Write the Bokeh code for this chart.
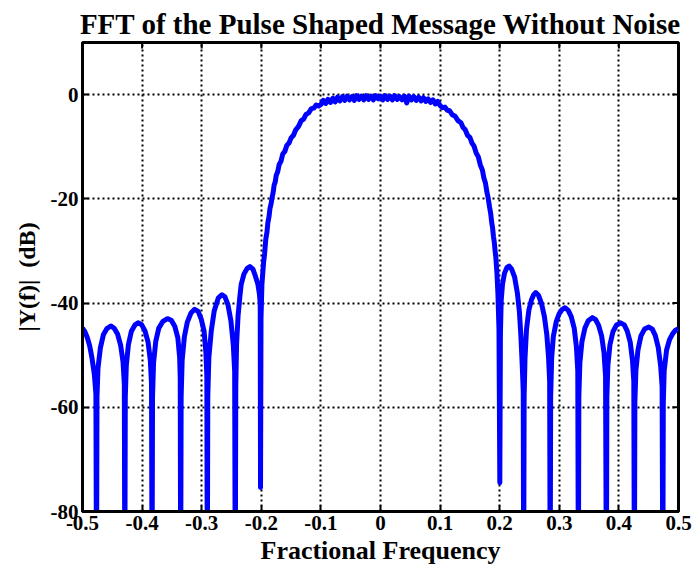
import math

from bokeh.plotting import figure
from bokeh.models import FixedTicker, Range1d
from bokeh.embed import file_html
from bokeh.resources import INLINE

# Magnitude spectrum |Y(f)| in dB, read as three pieces: the left sidebands,
# the main lobe and the right sidebands. Null samples sit below the plot floor.
left_freq = [
    -0.5000, -0.4960, -0.4920, -0.4880, -0.4840, -0.4800, -0.4775, -0.4765,
    -0.4757, -0.4740, -0.4700, -0.4650, -0.4590, -0.4526, -0.4470, -0.4410, -0.4360, -0.4320, -0.4298, -0.4290,
    -0.4282, -0.4265, -0.4230, -0.4180, -0.4120, -0.4067, -0.4010, -0.3950, -0.3900, -0.3862, -0.3842, -0.3833,
    -0.3825, -0.3808, -0.3770, -0.3720, -0.3650, -0.3576, -0.3510, -0.3450, -0.3400, -0.3370, -0.3360, -0.3353,
    -0.3345, -0.3328, -0.3290, -0.3240, -0.3180, -0.3119, -0.3060, -0.3010, -0.2960, -0.2930, -0.2914, -0.2906,
    -0.2898, -0.2880, -0.2840, -0.2790, -0.2720, -0.2660, -0.2610, -0.2560, -0.2510, -0.2470, -0.2447, -0.2437,
    -0.2428, -0.2415, -0.2390, -0.2360, -0.2337, -0.2290, -0.2240, -0.2190, -0.2140, -0.2100, -0.2057, -0.2030,
    -0.2018, -0.2013,
]
left_db = [
    -44.8, -45.5, -46.6, -48.2, -50.6, -53.8, -57.5, -95.0,
    -58.0, -52.5, -48.6, -46.1, -44.9, -44.4, -44.8, -46.0, -48.1, -51.3, -55.5, -95.0,
    -58.0, -52.0, -48.0, -45.4, -44.2, -43.8, -44.1, -45.4, -47.5, -51.0, -55.5, -95.0,
    -58.0, -51.5, -47.3, -44.8, -43.5, -43.0, -43.3, -44.5, -46.7, -50.4, -54.5, -95.0,
    -58.0, -51.0, -46.4, -43.6, -41.9, -41.2, -41.6, -43.0, -45.4, -49.4, -54.0, -95.0,
    -58.0, -50.5, -45.4, -41.5, -39.0, -38.4, -38.8, -40.3, -43.4, -48.0, -53.0, -95.0,
    -56.0, -48.0, -42.5, -38.8, -36.4, -34.4, -33.4, -33.0, -33.5, -34.8, -36.4, -38.4,
    -40.2, -75.4,
]

main_freq = [
    -0.2005, -0.1990, -0.1975, -0.1960, -0.1945, -0.1925, -0.1905, -0.1890, -0.1870, -0.1855,
    -0.1835, -0.1820, -0.1800, -0.1785, -0.1765, -0.1750, -0.1725, -0.1700, -0.1670, -0.1640,
    -0.1605, -0.1570, -0.1535, -0.1500, -0.1460, -0.1420, -0.1375, -0.1330, -0.1290, -0.1250,
    -0.1205, -0.1160, -0.1120, -0.1080, -0.1040,
    -0.100, -0.096, -0.092, -0.088, -0.084, -0.080, -0.076, -0.072, -0.068, -0.064,
    -0.060, -0.056, -0.052, -0.048, -0.044, -0.040, -0.036, -0.032, -0.028, -0.024,
    -0.020, -0.016, -0.012, -0.008, -0.004, 0.000, 0.004, 0.008, 0.012, 0.016,
    0.020, 0.024, 0.028, 0.032, 0.036, 0.040, 0.044, 0.048, 0.052, 0.056,
    0.060, 0.064, 0.068, 0.072, 0.076, 0.080, 0.084, 0.088, 0.092, 0.096, 0.100,
    0.1040, 0.1080, 0.1120, 0.1160, 0.1205, 0.1250, 0.1300, 0.1350, 0.1385, 0.1420,
    0.1460, 0.1500, 0.1535, 0.1570, 0.1605, 0.1640, 0.1675, 0.1710, 0.1735, 0.1760,
    0.1785, 0.1806, 0.1830, 0.1850, 0.1865, 0.1880, 0.1895, 0.1910, 0.1923, 0.1935,
    0.1955, 0.1970, 0.1988,
]
main_db = [
    -43.0, -36.5, -34.2, -32.0, -30.6, -27.8, -26.4, -24.6, -23.4, -21.9,
    -20.9, -19.8, -18.7, -17.4, -16.7, -15.5, -14.8, -13.4, -12.8, -11.4,
    -10.9, -9.7, -9.3, -8.3, -7.8, -6.7, -6.1, -5.0, -4.7, -3.8,
    -3.5, -2.7, -2.6, -2.0, -2.2,
    -1.9, -1.1, -1.7, -0.9, -1.5, -0.7, -1.4, -0.5, -1.2, -0.4,
    -1.1, -0.3, -1.0, -0.4, -1.1, -0.2, -0.9, -0.3, -1.0, -0.2,
    -0.9, -0.3, -1.0, -0.2, -0.8, -0.3, -1.0, -0.2, -0.9, -0.3,
    -1.0, -0.2, -0.9, -0.4, -1.0, -0.3, -1.6, -0.3, -1.0, -0.4,
    -1.1, -0.5, -1.2, -0.6, -1.3, -0.8, -1.5, -1.0, -1.8, -1.3, -2.1,
    -2.5, -2.4, -3.0, -3.1, -3.9, -4.1, -5.0, -5.4, -6.3, -6.7,
    -7.8, -8.2, -9.3, -9.9, -11.2, -11.9, -13.5, -14.5, -16.0, -16.9,
    -18.7, -19.8, -21.6, -22.9, -24.5, -25.5, -27.2, -28.4, -30.0, -31.2,
    -34.5, -38.2, -45.0,
]

right_freq = [
    0.2002,
    0.2012, 0.2025, 0.2047, 0.2080, 0.2120, 0.2158, 0.2200, 0.2250, 0.2298, 0.2330, 0.2355, 0.2380, 0.2395, 0.2402,
    0.2410, 0.2425, 0.2450, 0.2490, 0.2535, 0.2570, 0.2605, 0.2650, 0.2700, 0.2750, 0.2790, 0.2820, 0.2838, 0.2847,
    0.2855, 0.2872, 0.2900, 0.2950, 0.3000, 0.3050, 0.3096, 0.3150, 0.3200, 0.3250, 0.3288, 0.3310, 0.3320,
    0.3328, 0.3345, 0.3380, 0.3430, 0.3485, 0.3554, 0.3610, 0.3660, 0.3710, 0.3750, 0.3776, 0.3790,
    0.3798, 0.3815, 0.3850, 0.3900, 0.3960, 0.4028, 0.4090, 0.4140, 0.4190, 0.4228, 0.4250, 0.4260,
    0.4268, 0.4285, 0.4320, 0.4370, 0.4430, 0.4503, 0.4560, 0.4610, 0.4660, 0.4700, 0.4725, 0.4737,
    0.4745, 0.4760, 0.4800, 0.4850, 0.4900, 0.4950, 0.5000,
]
right_db = [
    -74.5,
    -46.0, -39.5, -36.4, -34.3, -33.2, -32.9, -33.5, -35.0, -38.2, -41.6, -46.2, -52.4, -57.0, -95.0,
    -58.0, -50.5, -45.0, -41.3, -39.3, -38.4, -38.0, -38.5, -40.0, -42.6, -46.0, -50.5, -55.0, -95.0,
    -58.0, -50.5, -46.4, -43.5, -42.0, -41.2, -40.9, -41.4, -42.6, -44.8, -48.5, -53.0, -95.0,
    -58.0, -51.5, -47.4, -44.8, -43.4, -42.8, -43.2, -44.3, -46.3, -49.5, -54.0, -95.0,
    -58.0, -52.0, -48.0, -45.5, -44.2, -43.8, -44.2, -45.4, -47.5, -51.0, -55.0, -95.0,
    -59.0, -53.0, -49.0, -46.3, -45.0, -44.6, -45.0, -46.2, -48.5, -52.0, -56.0, -95.0,
    -59.0, -53.0, -49.0, -47.0, -45.9, -45.2, -44.9,
]

x_ticks = [-0.5, -0.4, -0.3, -0.2, -0.1, 0.0, 0.1, 0.2, 0.3, 0.4, 0.5]
x_tick_labels = ["-0.5", "-0.4", "-0.3", "-0.2", "-0.1", "0", "0.1", "0.2", "0.3", "0.4", "0.5"]
y_ticks = [-80, -60, -40, -20, 0]
y_tick_labels = ["-80", "-60", "-40", "-20", "0"]
x_lim = (-0.5, 0.5)
y_lim = (-80, 10)

freq = left_freq + main_freq + right_freq
mag_db = left_db + main_db + right_db

FONT = "Liberation Serif"

p = figure(
    width=694, height=573,
    x_range=Range1d(*x_lim), y_range=Range1d(*y_lim),
    output_backend="svg", toolbar_location=None,
    min_border_left=82, min_border_right=16,
    min_border_top=42, min_border_bottom=62,
    background_fill_color="white", border_fill_color="white",
)

# dotted grid
for g, t in ((p.xgrid, x_ticks), (p.ygrid, y_ticks)):
    g.ticker = FixedTicker(ticks=t)
    g.grid_line_color = "black"
    g.grid_line_dash = "2 3"
    g.grid_line_width = 2

p.line(freq, mag_db, line_color="#0000FF", line_width=5, line_join="round")

# inward tick marks on the top and right edges (outer half is clipped by the frame)
p.scatter(x_ticks, [y_lim[1]] * len(x_ticks), marker="dash", angle=math.pi / 2,
          size=12, line_color="black", line_width=2)
p.scatter([x_lim[1]] * len(y_ticks), y_ticks, marker="dash",
          size=12, line_color="black", line_width=2)

# title
p.title.text = "FFT of the Pulse Shaped Message Without Noise"
p.title.text_font = FONT
p.title.text_font_style = "bold"
p.title.text_font_size = "29px"
p.title.text_color = "black"
p.title.align = "center"
p.title.standoff = 5

p.outline_line_color = "black"
p.outline_line_width = 3


def style_axis(ax, ticks, labels):
    ax.ticker = FixedTicker(ticks=ticks)
    ax.axis_line_width = 3
    ax.axis_line_color = "black"
    ax.major_tick_in = 6
    ax.major_tick_out = 0
    ax.major_tick_line_width = 2
    ax.minor_tick_line_color = None
    ax.major_label_overrides = {t: s for t, s in zip(ticks, labels)}
    ax.major_label_text_font = FONT
    ax.major_label_text_font_style = "bold"
    ax.major_label_text_font_size = "21px"
    ax.major_label_text_color = "black"
    ax.axis_label_text_font = FONT
    ax.axis_label_text_font_style = "bold"
    ax.axis_label_text_font_size = "26px"
    ax.axis_label_text_color = "black"


style_axis(p.xaxis[0], x_ticks, x_tick_labels)
style_axis(p.yaxis[0], y_ticks, y_tick_labels)
p.xaxis[0].axis_label = "Fractional Frequency"
p.xaxis[0].axis_label_standoff = 3
p.xaxis[0].major_label_standoff = 4
p.yaxis[0].axis_label = "|Y(f)|\u00a0\u00a0(dB)"
p.yaxis[0].axis_label_text_font_size = "24px"
p.yaxis[0].axis_label_standoff = 8
p.yaxis[0].major_label_standoff = 4

open("out.html", "w").write(file_html(p, INLINE))
